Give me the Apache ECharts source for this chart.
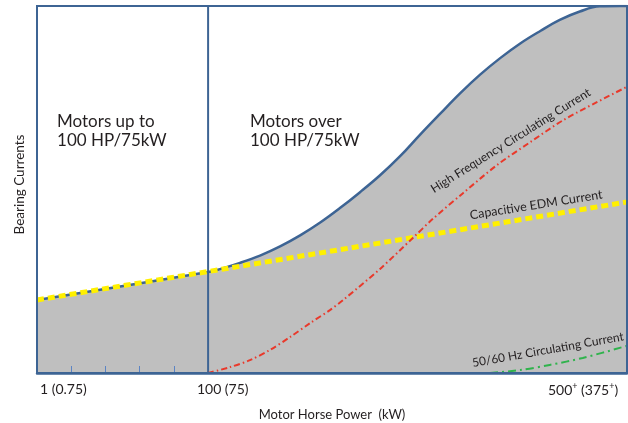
<!DOCTYPE html>
<html><head><meta charset="utf-8">
<script src="https://cdn.jsdelivr.net/npm/echarts@6/dist/echarts.min.js"></script>
<style>html,body{margin:0;padding:0;background:#fff}#c{width:628px;height:423px}</style>
</head><body><div id="c"></div>
<script>
// x: relative position along the motor-power axis (0..100), y: relative bearing current (0..100)
const boundaryX = [0, 29.0, 31.0, 34.4, 37.8, 41.2, 44.6, 48.0, 51.4, 54.7, 58.1, 61.5, 64.9, 68.3, 71.7, 75.1, 78.5, 81.9, 85.3, 88.6, 92.0, 95.4, 98.8, 100];
const boundaryY = [19.9, 27.5, 28.3, 30.0, 32.0, 34.5, 37.5, 41.0, 45.0, 49.2, 53.8, 59.0, 64.9, 70.6, 76.2, 81.3, 85.8, 89.8, 93.2, 96.2, 98.5, 99.9, 100, 100];
const edmX = [0, 100];
const edmY = [19.9, 46.6];
const hfX = [29.0, 32.7, 36.1, 39.5, 42.9, 46.3, 49.7, 51.9, 58.1, 63.7, 67.1, 72.2, 78.0, 83.6, 89.2, 94.9, 100];
const hfY = [0, 1.6, 3.5, 6.3, 9.8, 13.6, 17.2, 19.9, 28.3, 36.8, 42.0, 49.0, 56.7, 62.9, 68.9, 73.8, 78.0];
const lfX = [76.8, 81.9, 86.9, 92.5, 100];
const lfY = [0, 0.8, 2.2, 4.1, 7.4];
const dividerX = 29;
const minorTicks = [5.8, 11.6, 17.4, 23.2];
const tickLabels = ['1 (0.75)', '100 (75)', '500{sup|+} (375{sup|+})'];
const tickLabelAt = [0.5, 27.1, 86.6];
const annotations = [
  {text: 'Motors up to\n100 HP/75kW', x: 3.4, y: 66.0, rot: 0, size: 17, align: 'left'},
  {text: 'Motors over\n100 HP/75kW', x: 36.1, y: 66.0, rot: 0, size: 17, align: 'left'},
  {text: 'High Frequency Circulating Current', x: 80.3, y: 63.3, rot: 32, size: 12, align: 'center'},
  {text: 'Capacitive EDM Current', x: 84.6, y: 45.8, rot: 9, size: 12.5, align: 'center'},
  {text: '50/60 Hz Circulating Current', x: 86.6, y: 6.3, rot: 10, size: 12, align: 'center'}
];

const BLUE = '#3d6494';
const FONT = 'Lato';
const TXT = '#231f20';
const zip = (a, b) => a.map((v, i) => [v, b[i]]);

const chart = echarts.init(document.getElementById('c'));
chart.setOption({
  animation: false,
  textStyle: {fontFamily: FONT, color: TXT},
  grid: {left: 37, right: 1, top: 6, bottom: 50, containLabel: false, outerBoundsMode: 'none'},
  xAxis: {
    type: 'value', min: 0, max: 100, z: 10,
    name: 'Motor Horse Power  (kW)', nameLocation: 'middle', nameGap: 35,
    nameTextStyle: {fontSize: 13, color: TXT, fontFamily: FONT},
    splitLine: {show: false},
    axisLine: {show: true, lineStyle: {color: BLUE, width: 2.5}},
    axisTick: {show: true, inside: true, length: 7, customValues: minorTicks, lineStyle: {color: '#5b84c4', width: 1}},
    axisLabel: {
      show: true, customValues: tickLabelAt, align: 'left', margin: 9,
      fontSize: 14, color: TXT, fontFamily: FONT,
      rich: {sup: {fontSize: 9, fontFamily: FONT, color: TXT, padding: [0, 0, 7, 0]}},
      formatter: v => { const i = tickLabelAt.indexOf(v); return i >= 0 ? tickLabels[i] : ''; }
    }
  },
  yAxis: {
    type: 'value', min: 0, max: 100,
    name: 'Bearing Currents', nameLocation: 'middle', nameGap: 10,
    nameTextStyle: {fontSize: 13.5, color: TXT, fontFamily: FONT, padding: [0, 0, 0, 10]},
    splitLine: {show: false}, axisLine: {show: false}, axisTick: {show: false}, axisLabel: {show: false}
  },
  series: [
    {type: 'line', data: zip(boundaryX, boundaryY), smooth: 0.4, showSymbol: false, z: 2,
     lineStyle: {color: BLUE, width: 2.5}, areaStyle: {color: '#bfbfbf', opacity: 1, origin: 'start'}},
    {type: 'line', data: [[dividerX, 0], [dividerX, 100]], showSymbol: false, z: 3,
     lineStyle: {color: BLUE, width: 2}},
    {type: 'line', data: zip(lfX, lfY), smooth: 0.3, showSymbol: false, z: 4,
     lineStyle: {color: '#2fb34c', width: 2, type: [8, 4, 2, 4]}},
    {type: 'line', data: zip(edmX, edmY), showSymbol: false, z: 5,
     lineStyle: {color: '#fff000', width: 5, type: [7, 4], cap: 'butt'}},
    {type: 'line', data: zip(hfX, hfY), smooth: 0.3, showSymbol: false, z: 6,
     lineStyle: {color: '#e9392b', width: 2, type: [6, 3, 1.5, 3]}}
  ]
});

const p0 = chart.convertToPixel({gridIndex: 0}, [0, 0]);
const p1 = chart.convertToPixel({gridIndex: 0}, [100, 100]);
const graphics = [{
  type: 'rect', z: 100, silent: true,
  shape: {x: p0[0], y: p1[1], width: p1[0] - p0[0], height: p0[1] - p1[1]},
  style: {fill: 'none', stroke: BLUE, lineWidth: 2}
}];
annotations.forEach(a => {
  const p = chart.convertToPixel({gridIndex: 0}, [a.x, a.y]);
  graphics.push({
    type: 'text', z: 100, silent: true, x: p[0], y: p[1], rotation: a.rot * Math.PI / 180,
    style: {text: a.text, fill: TXT, font: a.size + 'px ' + FONT, align: a.align, verticalAlign: 'middle', lineHeight: a.size + 1.5}
  });
});
chart.setOption({graphic: graphics});
</script>
</body></html>
